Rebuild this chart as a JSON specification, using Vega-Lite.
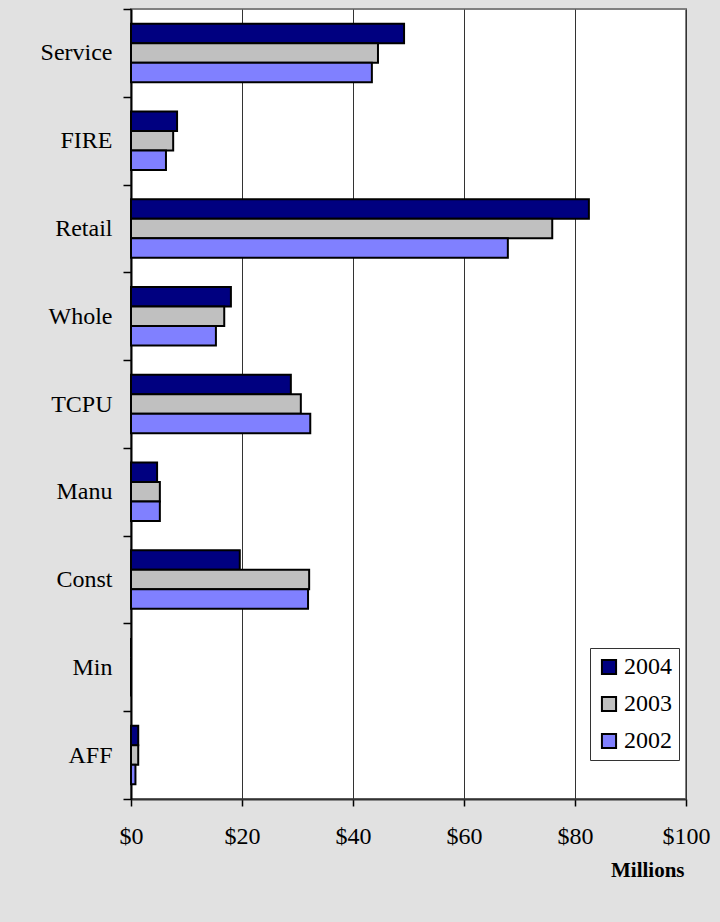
{
  "$schema": "https://vega.github.io/schema/vega-lite/v6.json",
  "width": 555,
  "height": 790,
  "autosize": {"type": "none"},
  "padding": {"left": 131, "top": 9, "right": 34, "bottom": 123},
  "background": "#e1e1e1",
  "config": {
    "view": {"fill": "white", "stroke": "#808080", "strokeWidth": 2},
    "font": "Liberation Serif"
  },
  "data": {
    "values": [
      {"sector": "Service", "year": "2004", "value": 49.2},
      {"sector": "Service", "year": "2003", "value": 44.5},
      {"sector": "Service", "year": "2002", "value": 43.4},
      {"sector": "FIRE", "year": "2004", "value": 8.3},
      {"sector": "FIRE", "year": "2003", "value": 7.6},
      {"sector": "FIRE", "year": "2002", "value": 6.3},
      {"sector": "Retail", "year": "2004", "value": 82.5},
      {"sector": "Retail", "year": "2003", "value": 75.9},
      {"sector": "Retail", "year": "2002", "value": 67.9},
      {"sector": "Whole", "year": "2004", "value": 18.0},
      {"sector": "Whole", "year": "2003", "value": 16.8},
      {"sector": "Whole", "year": "2002", "value": 15.3},
      {"sector": "TCPU", "year": "2004", "value": 28.8},
      {"sector": "TCPU", "year": "2003", "value": 30.6},
      {"sector": "TCPU", "year": "2002", "value": 32.3},
      {"sector": "Manu", "year": "2004", "value": 4.7},
      {"sector": "Manu", "year": "2003", "value": 5.2},
      {"sector": "Manu", "year": "2002", "value": 5.2},
      {"sector": "Const", "year": "2004", "value": 19.6},
      {"sector": "Const", "year": "2003", "value": 32.1},
      {"sector": "Const", "year": "2002", "value": 31.9},
      {"sector": "Min", "year": "2004", "value": 0},
      {"sector": "Min", "year": "2003", "value": 0},
      {"sector": "Min", "year": "2002", "value": 0},
      {"sector": "AFF", "year": "2004", "value": 1.3},
      {"sector": "AFF", "year": "2003", "value": 1.3},
      {"sector": "AFF", "year": "2002", "value": 0.8}
    ]
  },
  "mark": {"type": "bar", "stroke": "black", "strokeWidth": 2},
  "encoding": {
    "y": {
      "field": "sector",
      "type": "nominal",
      "sort": ["Service", "FIRE", "Retail", "Whole", "TCPU", "Manu", "Const", "Min", "AFF"],
      "scale": {"paddingInner": 0, "paddingOuter": 0},
      "axis": {
        "title": null,
        "tickBand": "extent",
        "tickSize": 8,
        "tickColor": "black",
        "tickWidth": 1.5,
        "domainColor": "black",
        "domainWidth": 2,
        "labelFontSize": 24,
        "labelColor": "black",
        "labelPadding": 11,
        "labelFont": "Liberation Serif"
      }
    },
    "yOffset": {
      "field": "year",
      "type": "nominal",
      "sort": ["2004", "2003", "2002"],
      "scale": {"paddingInner": 0, "paddingOuter": 0.75}
    },
    "x": {
      "field": "value",
      "type": "quantitative",
      "scale": {"domain": [0, 100], "nice": false},
      "axis": {
        "values": [0, 20, 40, 60, 80, 100],
        "labelExpr": "'$' + datum.value",
        "grid": true,
        "gridColor": "#333333",
        "gridWidth": 1,
        "tickSize": 7,
        "tickColor": "black",
        "tickWidth": 1.5,
        "domainColor": "#333333",
        "domainWidth": 2,
        "labelFontSize": 24,
        "labelColor": "black",
        "labelPadding": 18,
        "labelFont": "Liberation Serif",
        "labelFlush": false,
        "title": "Millions",
        "titleFont": "Liberation Serif",
        "titleFontSize": 21,
        "titleFontWeight": "bold",
        "titleColor": "black",
        "titleAlign": "right",
        "titleAnchor": "end",
        "titleX": 553,
        "titleY": 77,
        "titleBaseline": "alphabetic"
      }
    },
    "color": {
      "field": "year",
      "type": "nominal",
      "sort": ["2004", "2003", "2002"],
      "scale": {"domain": ["2004", "2003", "2002"], "range": ["#000080", "#C0C0C0", "#8080FF"]},
      "legend": {
        "title": null,
        "orient": "none",
        "legendX": 459,
        "legendY": 639,
        "fillColor": "white",
        "strokeColor": "#333333",
        "padding": 7,
        "symbolType": "square",
        "symbolSize": 200,
        "symbolStrokeColor": "black",
        "symbolStrokeWidth": 2,
        "symbolOpacity": 1,
        "labelFont": "Liberation Serif",
        "labelFontSize": 24,
        "labelColor": "black",
        "labelOffset": 3,
        "rowPadding": 13
      }
    }
  }
}
